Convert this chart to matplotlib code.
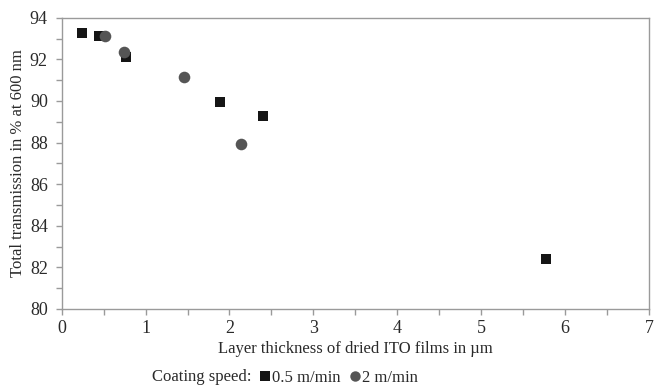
import matplotlib.pyplot as plt
from matplotlib.ticker import MultipleLocator
from matplotlib.lines import Line2D

# layer thickness (um) vs. total transmission (%) at 600 nm
slow_thickness = [0.245, 0.45, 0.77, 1.89, 2.40, 5.77]
slow_transmission = [93.25, 93.12, 92.10, 89.95, 89.27, 82.38]
fast_thickness = [0.515, 0.745, 1.46, 2.14]
fast_transmission = [93.12, 92.37, 91.15, 87.94]

plt.rcParams['font.family'] = 'Liberation Serif'

fig = plt.figure(figsize=(6.54, 3.87), dpi=100)
ax = fig.add_axes([0.0943, 0.2016, 0.898, 0.7526])

ax.scatter(slow_thickness, slow_transmission, marker='s', s=62, color='#151515',
           linewidths=0, zorder=3)
ax.scatter(fast_thickness, fast_transmission, marker='o', s=70, color='#555555',
           linewidths=0, zorder=3)

ax.set_xlim(0, 7)
ax.set_ylim(80, 94)
ax.xaxis.set_major_locator(MultipleLocator(1))
ax.xaxis.set_minor_locator(MultipleLocator(0.5))
ax.yaxis.set_major_locator(MultipleLocator(2))
ax.yaxis.set_minor_locator(MultipleLocator(1))

for side in ax.spines.values():
    side.set_color('#9a9a9a')
    side.set_linewidth(1.0)
ax.tick_params(which='both', direction='out', color='#9a9a9a', width=1.0,
               length=4, labelsize=13, labelcolor='#2a2a2a')
ax.tick_params(axis='x', pad=4)
ax.tick_params(axis='y', pad=6)

ax.set_xlabel('Layer thickness of dried ITO films in µm', fontsize=12,
              color='#2a2a2a', labelpad=3)
ax.set_ylabel('Total transmission in % at 600 nm', fontsize=12,
              color='#2a2a2a', labelpad=3)

# legend line under the axis label
fig.text(0.232, 0.016, 'Coating speed:', fontsize=12, color='#2a2a2a',
         ha='left', va='baseline')
handles = [
    Line2D([], [], linestyle='none', marker='s', markersize=7,
           color='#151515', markeredgewidth=0),
    Line2D([], [], linestyle='none', marker='o', markersize=7.5,
           color='#555555', markeredgewidth=0),
]
fig.legend(handles, ['0.5 m/min', '2 m/min'], loc='lower left',
           bbox_to_anchor=(0.375, -0.035), ncol=2, frameon=False,
           fontsize=12, handlelength=0.6, handletextpad=0.1,
           columnspacing=0.6, labelcolor='#2a2a2a')

fig.savefig('out.png', dpi=100)
